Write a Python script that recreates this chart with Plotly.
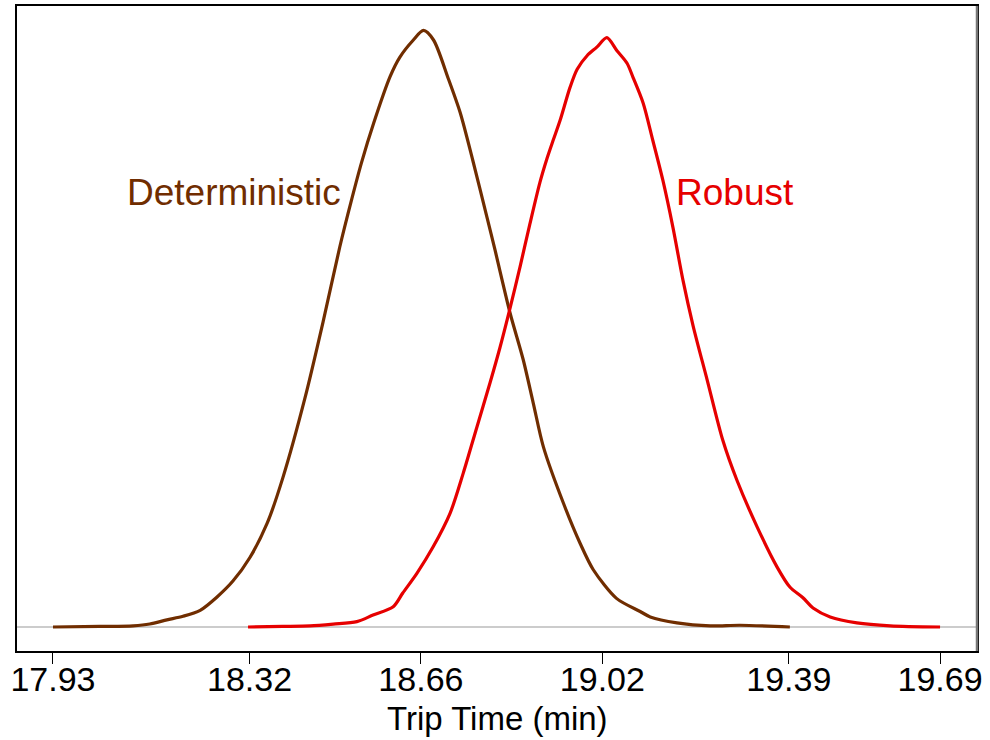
import plotly.graph_objects as go

# Deterministic density (scaled so the peak is ~1)
det_x = [17.930, 18.023, 18.089, 18.122, 18.156, 18.188, 18.222, 18.255, 18.287, 18.321,
         18.355, 18.386, 18.430, 18.466, 18.499, 18.523, 18.542, 18.566, 18.599, 18.618,
         18.645, 18.665, 18.685, 18.714, 18.738, 18.763, 18.791, 18.807, 18.837, 18.863,
         18.883, 18.903, 18.943, 18.976, 19.002, 19.048, 19.095, 19.115, 19.168, 19.234,
         19.293, 19.392]
det_y = [0.000, 0.001, 0.002, 0.005, 0.012, 0.018, 0.028, 0.050, 0.077, 0.117,
         0.174, 0.250, 0.384, 0.512, 0.637, 0.718, 0.778, 0.844, 0.923, 0.955,
         0.984, 1.000, 0.984, 0.920, 0.862, 0.782, 0.687, 0.632, 0.526, 0.448,
         0.375, 0.302, 0.207, 0.140, 0.096, 0.048, 0.026, 0.017, 0.007, 0.002,
         0.003, 0.000]

# Robust density
rob_x = [18.317, 18.386, 18.440, 18.486, 18.533, 18.565, 18.605, 18.624, 18.652, 18.684,
         18.718, 18.744, 18.771, 18.797, 18.817, 18.837, 18.857, 18.876, 18.896, 18.910,
         18.922, 18.936, 18.956, 18.970, 18.990, 19.009, 19.029, 19.049, 19.069, 19.081,
         19.101, 19.120, 19.140, 19.160, 19.180, 19.200, 19.228, 19.259, 19.287, 19.327,
         19.367, 19.392, 19.418, 19.438, 19.472, 19.525, 19.591, 19.690]
rob_y = [0.000, 0.001, 0.002, 0.005, 0.009, 0.020, 0.034, 0.057, 0.090, 0.134,
         0.191, 0.258, 0.335, 0.409, 0.469, 0.535, 0.605, 0.675, 0.745, 0.785,
         0.815, 0.849, 0.905, 0.935, 0.958, 0.972, 0.988, 0.966, 0.945, 0.921,
         0.878, 0.816, 0.749, 0.670, 0.581, 0.505, 0.414, 0.313, 0.246, 0.168,
         0.100, 0.067, 0.049, 0.032, 0.017, 0.007, 0.002, 0.000]

tick_vals = [17.93, 18.32, 18.66, 19.02, 19.39, 19.69]
tick_text = ["17.93", "18.32", "18.66", "19.02", "19.39", "19.69"]

BROWN = "#702D00"
RED = "#E60000"
FONT = "Liberation Sans, Arial, Helvetica, sans-serif"

fig = go.Figure()
fig.add_trace(go.Scatter(x=det_x, y=det_y, mode="lines",
                         line=dict(color=BROWN, width=3.2, shape="spline", smoothing=0.8),
                         name="Deterministic", showlegend=False, hoverinfo="skip"))
fig.add_trace(go.Scatter(x=rob_x, y=rob_y, mode="lines",
                         line=dict(color=RED, width=3.2, shape="spline", smoothing=0.8),
                         name="Robust", showlegend=False, hoverinfo="skip"))

fig.add_annotation(x=18.289, y=0.729, text="Deterministic", showarrow=False,
                   font=dict(family=FONT, size=37, color=BROWN), xanchor="center", yanchor="middle")
fig.add_annotation(x=19.283, y=0.729, text="Robust", showarrow=False,
                   font=dict(family=FONT, size=37, color=RED), xanchor="center", yanchor="middle")
# x axis title
fig.add_annotation(x=0.5, y=-0.104, xref="paper", yref="paper", text="Trip Time (min)",
                   showarrow=False, font=dict(family=FONT, size=33, color="black"),
                   xanchor="center", yanchor="middle")

# grey right border
fig.add_shape(type="line", xref="paper", yref="paper", x0=1, x1=1, y0=0, y1=1,
              line=dict(color="#777777", width=2.5))

fig.update_layout(
    width=990, height=740,
    margin=dict(l=17, r=13, t=6, b=89, autoexpand=False),
    paper_bgcolor="white", plot_bgcolor="white",
    font=dict(family=FONT, color="black"),
    xaxis=dict(range=[17.8586, 19.7633], tickmode="array", tickvals=tick_vals, ticktext=tick_text,
               ticks="outside", ticklen=11, tickwidth=1, tickcolor="black",
               tickfont=dict(size=34, family=FONT, color="black"),
               ticklabelstandoff=-14,
               showgrid=False, zeroline=False, automargin=False,
               showline=True, linecolor="black", linewidth=1.5, mirror=True),
    yaxis=dict(range=[-0.0402, 1.041], showticklabels=False, ticks="", showgrid=False,
               zeroline=True, zerolinecolor="#cccccc", zerolinewidth=1.5, automargin=False,
               showline=True, linecolor="black", linewidth=1.5, mirror=True),
)

fig.write_html("out.html")
